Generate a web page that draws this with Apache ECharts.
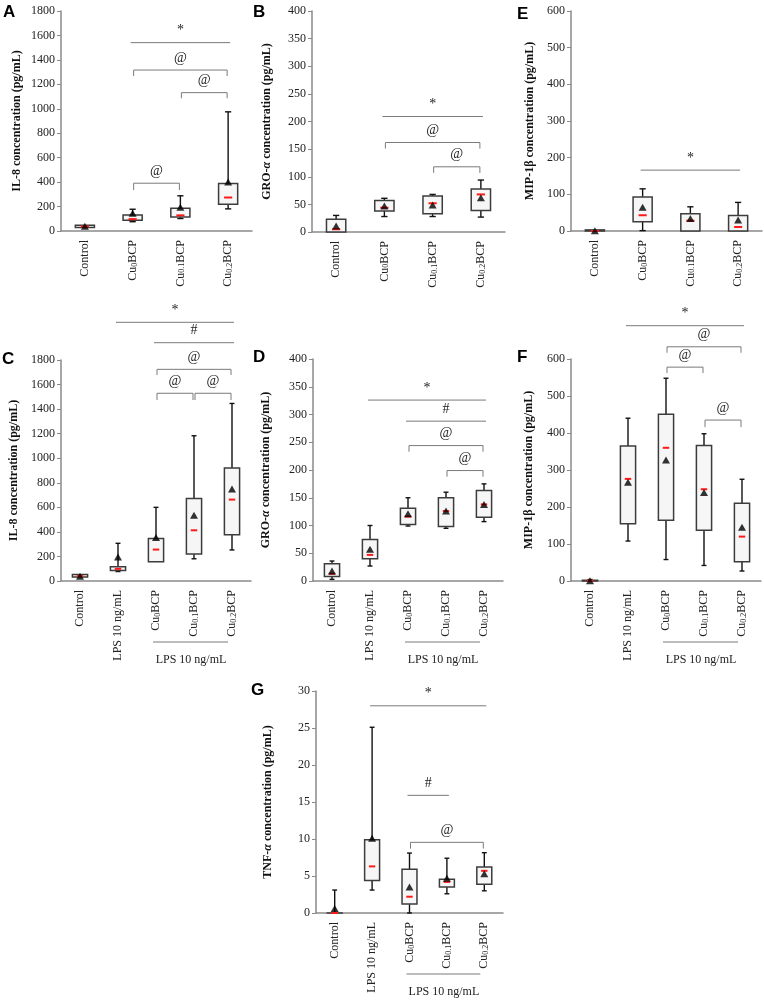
<!DOCTYPE html>
<html><head><meta charset="utf-8">
<script src="https://cdn.jsdelivr.net/npm/echarts@6/dist/echarts.min.js"></script>
<style>html,body{margin:0;padding:0;background:#fff}#c{width:764px;height:1000px}</style>
</head><body><div id="c"></div>
<script>
// ---------- categories ----------
const cats4 = ['Control', 'Cu0BCP', 'Cu0.1BCP', 'Cu0.2BCP'];
const cats5 = ['Control', 'LPS 10 ng/mL', 'Cu0BCP', 'Cu0.1BCP', 'Cu0.2BCP'];
const groupLabel = 'LPS 10 ng/mL';

// ---------- box data: [min, Q1, median, Q3, max] ----------
const boxA = [[25,28,37,48,52],[76,88,97,131,178],[102,115,128,186,288],[181,219,274,389,975]];
const meanA = [38,145,195,400];
const boxB = [[0,0,5,23,30],[28,38,44,57,61],[28,33,52,65,68],[27,39,68,78,94]];
const meanB = [11,47,49,62];
const boxE = [[0,0,0,3,4],[1,25,43,93,115],[0,0,28,47,66],[0,0,11,42,78]];
const meanE = [1,65,34,30];
const boxC = [[30,33,40,52,55],[77,85,99,117,307],[157,157,256,347,600],[181,219,413,672,1183],[253,376,663,920,1446]];
const meanC = [38,195,355,535,750];
const boxD = [[3,8,13,31,36],[27,40,47,75,100],[99,102,116,131,150],[95,98,126,150,160],[107,115,138,163,175]];
const meanD = [18,57,121,126,138];
const boxF = [[0,0,1,2,4],[108,155,276,365,440],[58,164,360,451,548],[42,137,248,366,398],[27,52,120,210,275]];
const meanF = [1,267,327,239,145];
const boxG = [[0,0,0,0,3.1],[3.1,4.4,6.3,9.9,25.1],[0,1.2,2.2,5.9,8.1],[2.6,3.5,4.2,4.55,7.4],[3.0,3.9,5.7,6.2,8.15]];
const meanG = [0.6,10.1,3.5,4.7,5.3];

// ---------- significance: [fromCat, toCat, topValue, endValue, mark] ----------
const sigA = [[1,3,1541,1541,'*'],[1,3,1317,1268,'@'],[2,3,1132,1086,'@'],[1,2,391,335,'@']];
const sigB = [[1,3,209,209,'*'],[1,3,162,151,'@'],[2,3,118,107,'@']];
const sigE = [[1,3,166,166,'*']];
const sigC = [[1,4,2107,2107,'*'],[2,4,1941,1941,'#'],[2,4,1724,1678,'@'],[2,3,1529,1474,'@'],[3,4,1529,1474,'@']];
const sigD = [[1,4,326,326,'*'],[2,4,288,288,'#'],[2,4,244,233,'@'],[3,4,199,188,'@']];
const sigF = [[1,4,690,690,'*'],[2,4,633,617,'@'],[2,3,578,562,'@'],[3,4,435,416,'@']];
const sigG = [[1,4,28,28,'*'],[2,3,15.9,15.9,'#'],[2,4,9.55,8.7,'@']];

// ---------- axes ----------
const yMaxes = {A:1800,B:400,E:600,C:1800,D:400,F:600,G:30};
const yIntervals = {A:200,B:50,E:100,C:200,D:50,F:100,G:5};
const yNames = {
  A:'{b|IL-8 concentration (pg/mL)}',
  B:'{b|GRO-}{i|α}{b| concentration (pg/mL)}',
  E:'{b|MIP-1β concentration (pg/mL)}',
  C:'{b|IL-8 concentration (pg/mL)}',
  D:'{b|GRO-}{i|α}{b| concentration (pg/mL)}',
  F:'{b|MIP-1β concentration (pg/mL)}',
  G:'{b|TNF-}{i|α}{b| concentration (pg/mL)}'
};

const SERIF = '"Liberation Serif","Times New Roman",serif';
const SANS = '"Liberation Sans",Arial,sans-serif';

const panels = [
  {key:'A', cats:cats4, box:boxA, mean:meanA, sig:sigA, grid:{left:61,top:11,width:191,height:220}, group:false, letter:[3,4], nameGap:38},
  {key:'B', cats:cats4, box:boxB, mean:meanB, sig:sigB, grid:{left:312,top:11,width:193,height:221}, group:false, letter:[253,4], nameGap:39},
  {key:'E', cats:cats4, box:boxE, mean:meanE, sig:sigE, grid:{left:571,top:11,width:191,height:220}, group:false, letter:[517,6], nameGap:35},
  {key:'C', cats:cats5, box:boxC, mean:meanC, sig:sigC, grid:{left:61,top:360,width:190,height:221}, group:true, letter:[2,351], nameGap:41},
  {key:'D', cats:cats5, box:boxD, mean:meanD, sig:sigD, grid:{left:313,top:359,width:190,height:222}, group:true, letter:[253,349], nameGap:41},
  {key:'F', cats:cats5, box:boxF, mean:meanF, sig:sigF, grid:{left:571,top:359,width:190,height:222}, group:true, letter:[517,349], nameGap:36},
  {key:'G', cats:cats5, box:boxG, mean:meanG, sig:sigG, grid:{left:316,top:691,width:187,height:222}, group:true, letter:[251,682], nameGap:42}
];

function fmtCat(s) {
  const m = s.match(/^Cu([\d.]+)BCP$/);
  if (m) return '{n|Cu}{s|' + m[1] + '}{n|BCP}';
  return '{n|' + s + '}';
}

function boxRender(params, api) {
  const x = api.value(0);
  const vmin = api.value(1), q1 = api.value(2), med = api.value(3), q3 = api.value(4), vmax = api.value(5);
  const band = api.size([1, 0])[0];
  const bw = band * 0.4, cw = band * 0.13, mw = band * 0.17;
  const cx = api.coord([x, med])[0];
  const yMin = api.coord([x, vmin])[1], yQ1 = api.coord([x, q1])[1], yMed = api.coord([x, med])[1];
  const yQ3 = api.coord([x, q3])[1], yMax = api.coord([x, vmax])[1];
  const ls = {stroke:'#111', lineWidth:1.4};
  const ch = [];
  if (yMin - yQ1 > 0.5) {
    ch.push({type:'line', shape:{x1:cx, y1:yQ1, x2:cx, y2:yMin}, style:ls});
    ch.push({type:'line', shape:{x1:cx-cw/2, y1:yMin, x2:cx+cw/2, y2:yMin}, style:ls});
  }
  if (yQ3 - yMax > 0.5) {
    ch.push({type:'line', shape:{x1:cx, y1:yQ3, x2:cx, y2:yMax}, style:ls});
    ch.push({type:'line', shape:{x1:cx-cw/2, y1:yMax, x2:cx+cw/2, y2:yMax}, style:ls});
  }
  ch.push({type:'rect', shape:{x:cx-bw/2, y:yQ3, width:bw, height:Math.max(yQ1-yQ3, 0.01)},
    style:{fill:'#f6f6f6', stroke:'#3c3c3c', lineWidth:1.5}});
  ch.push({type:'line', shape:{x1:cx-mw/2, y1:yMed, x2:cx+mw/2, y2:yMed}, style:{stroke:'#ff1a1a', lineWidth:2}});
  return {type:'group', children:ch};
}

function sigRender(list) {
  return function (params, api) {
    const a = api.value(0), b = api.value(1), yt = api.value(2), ye = api.value(3);
    const p1 = api.coord([a, yt]), p2 = api.coord([b, yt]);
    const yE = api.coord([a, ye])[1];
    const st = {stroke:'#7a7a7a', lineWidth:1, fill:null};
    const ch = [];
    if (yE - p1[1] > 0.5) {
      ch.push({type:'polyline', shape:{points:[[p1[0]+1, yE],[p1[0]+1, p1[1]],[p2[0]-1, p2[1]],[p2[0]-1, yE]]}, style:st});
    } else {
      ch.push({type:'line', shape:{x1:p1[0]-2, y1:p1[1], x2:p2[0]+2, y2:p2[1]}, style:st});
    }
    const mark = list[params.dataIndex][4];
    ch.push({type:'text', style:{text:mark, x:(p1[0]+p2[0])/2, y:p1[1]-12, align:'center', verticalAlign:'middle',
      fontFamily:SERIF, fontSize:14, fill:'#222'}});
    return {type:'group', children:ch};
  };
}

function groupRender(params, api) {
  const a = api.value(0), b = api.value(1);
  const p1 = api.coord([a, 0]), p2 = api.coord([b, 0]);
  const y0 = p1[1];
  return {type:'group', children:[
    {type:'line', shape:{x1:p1[0]-3, y1:y0+61, x2:p2[0]-4, y2:y0+61}, style:{stroke:'#7a7a7a', lineWidth:1}},
    {type:'text', style:{text:groupLabel, x:(p1[0]+p2[0])/2 - 3, y:y0+79, align:'center', verticalAlign:'middle',
      fontFamily:SERIF, fontSize:12, fill:'#222'}}
  ]};
}

const grid = [], xAxis = [], yAxis = [], series = [], title = [];
panels.forEach((p, i) => {
  grid.push(Object.assign({containLabel:false}, p.grid));
  title.push({text:p.key, left:p.letter[0], top:p.letter[1], padding:0,
    textStyle:{fontFamily:SANS, fontSize:17, fontWeight:'bold', color:'#000'}});
  xAxis.push({
    type:'category', gridIndex:i, data:p.cats,
    axisTick:{show:false},
    axisLine:{lineStyle:{color:'#8a8a8a', width:1.5}},
    axisLabel:{rotate:90, margin:9, interval:0, formatter:fmtCat,
      rich:{
        n:{fontFamily:SERIF, fontSize:12, color:'#222'},
        s:{fontFamily:SERIF, fontSize:8, color:'#222', verticalAlign:'bottom'}
      }}
  });
  yAxis.push({
    type:'value', gridIndex:i, min:0, max:yMaxes[p.key], interval:yIntervals[p.key],
    splitLine:{show:false},
    axisLine:{show:true, lineStyle:{color:'#8a8a8a', width:1.5}},
    axisTick:{show:true, length:4, lineStyle:{color:'#8a8a8a'}},
    axisLabel:{fontFamily:SERIF, fontSize:12, color:'#222', margin:6, formatter:(v) => String(v)},
    name:yNames[p.key], nameLocation:'middle', nameGap:p.nameGap,
    nameTextStyle:{rich:{
      b:{fontFamily:SERIF, fontSize:12, fontWeight:'bold', color:'#111'},
      i:{fontFamily:SERIF, fontSize:12, fontWeight:'bold', fontStyle:'italic', color:'#111'}
    }}
  });
  series.push({
    type:'custom', xAxisIndex:i, yAxisIndex:i, clip:false, z:2,
    renderItem:boxRender,
    encode:{x:0, y:[1,2,3,4,5]},
    data:p.box.map((b, j) => [j].concat(b)),
    silent:true
  });
  series.push({
    type:'scatter', xAxisIndex:i, yAxisIndex:i, z:4, symbol:'triangle', symbolSize:[8,7],
    itemStyle:{color:'#000'}, data:p.mean.map((m, j) => [j, m]), silent:true
  });
  series.push({
    type:'custom', xAxisIndex:i, yAxisIndex:i, clip:false, z:3,
    renderItem:sigRender(p.sig), encode:{x:[0,1], y:[2,3]},
    data:p.sig.map(s => [s[0], s[1], s[2], s[3]]), silent:true
  });
  if (p.group) {
    series.push({
      type:'custom', xAxisIndex:i, yAxisIndex:i, clip:false, z:3,
      renderItem:groupRender, encode:{x:[0,1]},
      data:[[2, p.cats.length - 1]], silent:true
    });
  }
});

const chart = echarts.init(document.getElementById('c'), null, {renderer:'canvas'});
chart.setOption({backgroundColor:'#fff', animation:false, title, grid, xAxis, yAxis, series});
</script>
</body></html>
